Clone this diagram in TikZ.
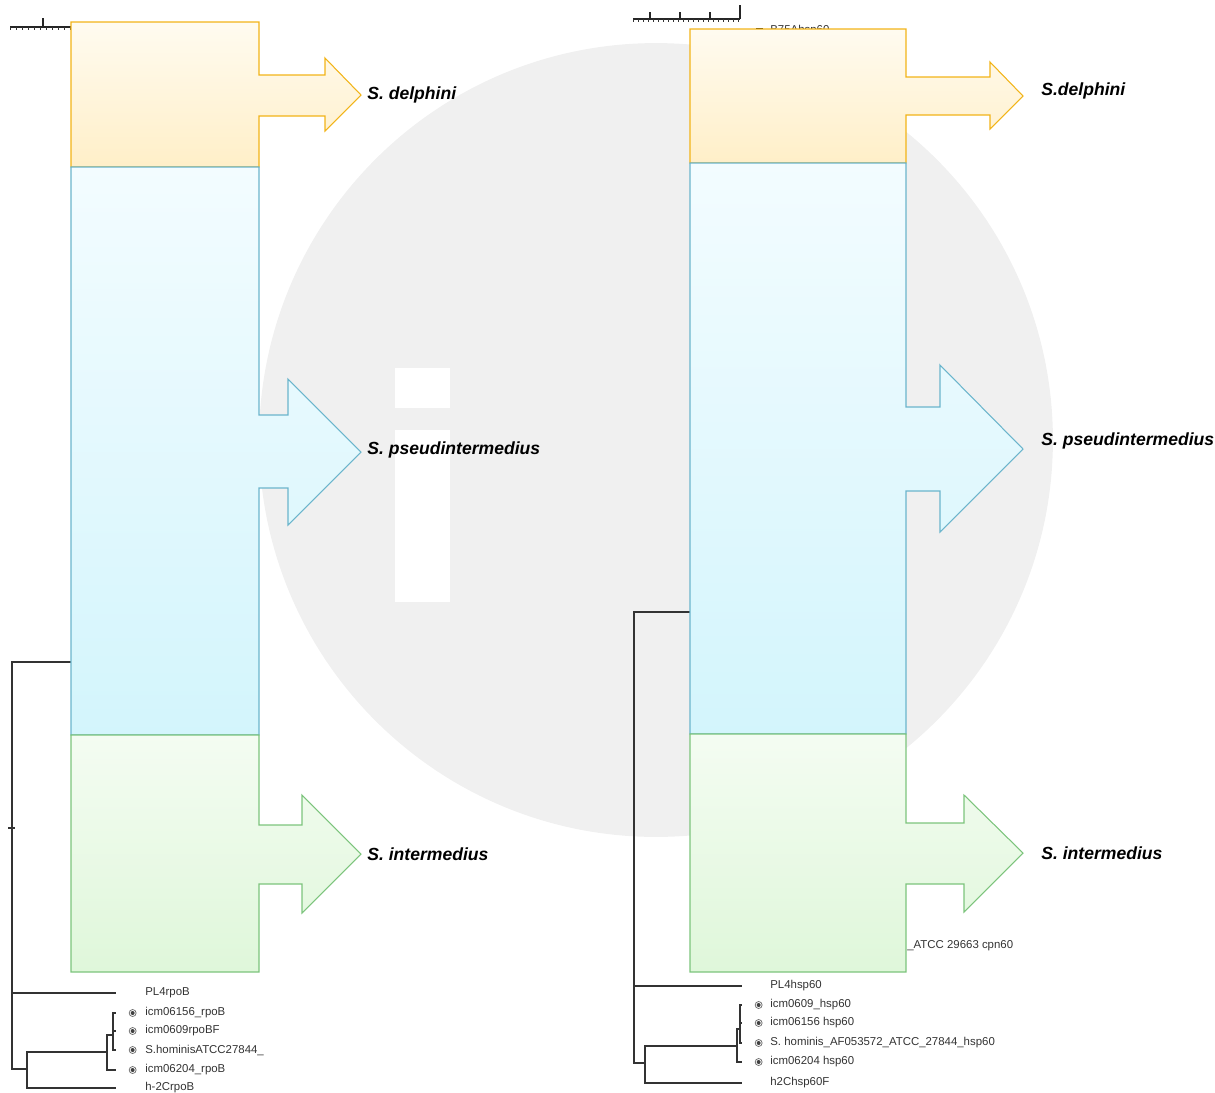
\documentclass[tikz,border=0pt]{standalone}
\usepackage{fontspec}
\setmainfont{Liberation Sans}
\usetikzlibrary{positioning}

\definecolor{dolLine}{HTML}{F2B418}
\definecolor{dolTop}{HTML}{FFFBF0}
\definecolor{dolBot}{HTML}{FFEFC8}
\definecolor{psdLine}{HTML}{6BB5CC}
\definecolor{psdTop}{HTML}{F3FCFF}
\definecolor{psdBot}{HTML}{D3F5FC}
\definecolor{intLine}{HTML}{7CC47C}
\definecolor{intTop}{HTML}{F4FCF2}
\definecolor{intBot}{HTML}{DFF7DA}
\definecolor{wmark}{HTML}{F0F0F0}

\begin{document}
\begin{tikzpicture}[x=0.02cm, y=-0.02cm,
    tree/.style={draw=black!80, line width=1.1pt},
    scalebar/.style={draw=black!85, line width=0.9pt},
    leaf/.style={anchor=west, inner sep=0pt, text=black!80,
                 font=\fontsize{6.5}{7}\selectfont},
    leafdot/.style={circle, draw=black!60, fill=white, line width=0.4pt,
                    inner sep=0pt, minimum size=0.14cm,
                    path picture={\fill[black!75] (path picture bounding box.center) circle (0.04cm);}},
    clade/.style={inner sep=0pt, font=\fontsize{10}{12}\selectfont\bfseries\itshape},
    dolbox/.style={draw=dolLine, line width=0.6pt, top color=dolTop, bottom color=dolBot},
    psdbox/.style={draw=psdLine, line width=0.6pt, top color=psdTop, bottom color=psdBot},
    intbox/.style={draw=intLine, line width=0.6pt, top color=intTop, bottom color=intBot}]

    \useasboundingbox (0,0) rectangle (1215,1093);

    % watermark
    \fill[wmark] (656,440) circle[radius=7.94cm];
    \fill[white] (395,430) rectangle (450,602);
    \fill[white] (395,368) rectangle (450,408);

    % scale bars
    \draw[scalebar] (10,27) -- (120,27);
    \foreach \x in {10,16,...,70} \draw[black!80, line width=0.5pt] (\x,27) -- (\x,30);
    \draw[scalebar] (43,27) -- (43,18);
    \draw[scalebar] (633,19) -- (740,19);
    \foreach \x in {633,638,...,738} \draw[black!80, line width=0.5pt] (\x,19) -- (\x,22);
    \foreach \x in {650,680,710} \draw[scalebar] (\x,19) -- (\x,12);
    \draw[scalebar] (740,19) -- (740,5);

    % left tree (rpoB)
    \node[leaf] (lfPL4) at (145,993) {PL4rpoB};
    \node[leaf] (lf156) at (145,1013) {icm06156\_rpoB};
    \node[leaf] (lf609) at (145,1031) {icm0609rpoBF};
    \node[leaf] (lfHom) at (145,1050) {S.hominisATCC27844\_};
    \node[leaf] (lf204) at (145,1070) {icm06204\_rpoB};
    \node[leaf] (lfH2C) at (145,1088) {h-2CrpoB};
    \node[leafdot, left=0.17cm of lf156.west] (ld156) {};
    \node[leafdot, left=0.17cm of lf609.west] (ld609) {};
    \node[leafdot, left=0.17cm of lfHom.west] (ldHom) {};
    \node[leafdot, left=0.17cm of lf204.west] (ld204) {};

    \coordinate (lRoot) at (12,662);
    \coordinate (lTop) at (75,662);
    \coordinate (lA) at (27,1069);
    \coordinate (lB) at (107,1052);
    \coordinate (lC) at (113,1035);
    \coordinate (lEnd) at (116,0);

    \draw[tree] (lTop) -- (lRoot) |- (lfPL4.west -| lEnd);
    \draw[tree] (lRoot) |- (lA);
    \draw[tree] (8,828) -- (15,828);
    \draw[tree] (lA) |- (lB);
    \draw[tree] (lA) |- (lfH2C.west -| lEnd);
    \draw[tree] (lB) |- (lC);
    \draw[tree] (lB) |- (lf204.west -| lEnd);
    \draw[tree] (lC) |- (lf156.west -| lEnd);
    \draw[tree] (lC) |- (lf609.west -| lEnd);
    \draw[tree] (lC) |- (lfHom.west -| lEnd);

    % right tree (hsp60)
    \node[leaf] (rfB75) at (770,31) {B75Ahsp60};
    \node[fill=black, inner sep=0pt, minimum size=0.13cm, left=0.14cm of rfB75.west] (rdB75) {};
    \node[leaf] (rfPL4) at (770,986) {PL4hsp60};
    \node[leaf] (rf609) at (770,1005) {icm0609\_hsp60};
    \node[leaf] (rf156) at (770,1023) {icm06156 hsp60};
    \node[leaf] (rfHom) at (770,1043) {S. hominis\_AF053572\_ATCC\_27844\_hsp60};
    \node[leaf] (rf204) at (770,1062) {icm06204 hsp60};
    \node[leaf] (rfH2C) at (770,1083) {h2Chsp60F};
    \node[leafdot, left=0.15cm of rf609.west] (rd609) {};
    \node[leafdot, left=0.15cm of rf156.west] (rd156) {};
    \node[leafdot, left=0.15cm of rfHom.west] (rdHom) {};
    \node[leafdot, left=0.15cm of rf204.west] (rd204) {};

    \coordinate (rRoot) at (634,612);
    \coordinate (rTop) at (694,612);
    \coordinate (rA) at (645,1063);
    \coordinate (rB) at (737,1046);
    \coordinate (rC) at (740,1029);
    \coordinate (rEnd) at (742,0);

    \draw[tree] (rTop) -- (rRoot) |- (rfPL4.west -| rEnd);
    \draw[tree] (rRoot) |- (rA);
    \draw[tree] (rA) |- (rB);
    \draw[tree] (rA) |- (rfH2C.west -| rEnd);
    \draw[tree] (rB) |- (rC);
    \draw[tree] (rB) |- (rf204.west -| rEnd);
    \draw[tree] (rC) |- (rf609.west -| rEnd);
    \draw[tree] (rC) |- (rf156.west -| rEnd);
    \draw[tree] (rC) |- (rfHom.west -| rEnd);

    % left clade boxes
    \draw[dolbox] (71,22) -- (259,22) -- (259,75) -- (325,75) -- (325,58) -- (361,95)
        -- (325,131) -- (325,116) -- (259,116) -- (259,167) -- (71,167) -- cycle;
    \draw[psdbox] (71,167) -- (259,167) -- (259,415) -- (288,415) -- (288,379) -- (361,452)
        -- (288,525) -- (288,488) -- (259,488) -- (259,735) -- (71,735) -- cycle;
    \draw[intbox] (71,735) -- (259,735) -- (259,825) -- (302,825) -- (302,795) -- (361,854)
        -- (302,913) -- (302,884) -- (259,884) -- (259,972) -- (71,972) -- cycle;
    \coordinate (tipDelL) at (361,95);
    \coordinate (tipPsdL) at (361,452);
    \coordinate (tipIntL) at (361,854);

    % right clade boxes
    \draw[dolbox] (690,29) -- (906,29) -- (906,77) -- (990,77) -- (990,62) -- (1023,96)
        -- (990,129) -- (990,115) -- (906,115) -- (906,163) -- (690,163) -- cycle;
    \draw[psdbox] (690,163) -- (906,163) -- (906,407) -- (940,407) -- (940,365) -- (1023,449)
        -- (940,532) -- (940,491) -- (906,491) -- (906,734) -- (690,734) -- cycle;
    \draw[intbox] (690,734) -- (906,734) -- (906,823) -- (964,823) -- (964,795) -- (1023,853)
        -- (964,912) -- (964,884) -- (906,884) -- (906,972) -- (690,972) -- cycle;
    \coordinate (tipDelR) at (1023,96);
    \coordinate (tipPsdR) at (1023,449);
    \coordinate (tipIntR) at (1023,853);

    \node[leaf] (rfATCC) at (907,946) {\_ATCC 29663 cpn60};

    % clade labels
    \node[clade, right=0.12cm of tipDelL] (delL) {S. delphini};
    \node[clade, right=0.12cm of tipPsdL, yshift=0.05cm] (psdL) {S. pseudintermedius};
    \node[clade, right=0.12cm of tipIntL] (intL) {S. intermedius};
    \node[clade, right=0.36cm of tipDelR, yshift=0.1cm] (delR) {S.delphini};
    \node[clade, right=0.36cm of tipPsdR, yshift=0.16cm] (psdR) {S. pseudintermedius};
    \node[clade, right=0.36cm of tipIntR] (intR) {S. intermedius};

\end{tikzpicture}
\end{document}
